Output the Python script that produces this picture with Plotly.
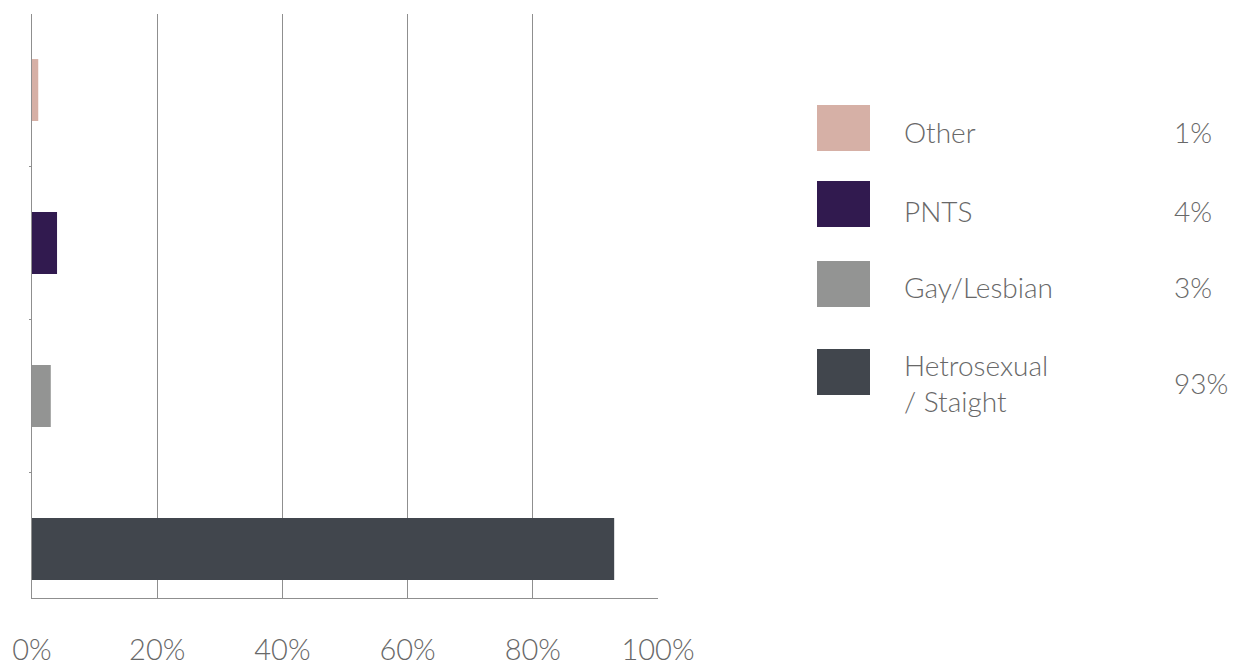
import plotly.graph_objects as go

categories = ["Other", "PNTS", "Gay/Lesbian", "Hetrosexual / Staight"]
legend_labels = ["Other", "PNTS", "Gay/Lesbian", "Hetrosexual<br>/ Staight"]
values = [1, 4, 3, 93]
colors = ["#d6b0a6", "#311a4f", "#939493", "#41464d"]
x_ticks = [0, 20, 40, 60, 80, 100]
x_ticktext = ["0%", "20%", "40%", "60%", "80%", "100%"]

FONT = "Lato"
TEXT_COLOR = "#686868"
GRID = "#8f8f8f"

# page body has an 8px default margin; work in figure pixel coordinates
OFF = 8
W, H = 1238 - OFF, 670 - OFF
L, R, T, B = 32 - OFF, 658 - OFF, 14 - OFF, 598 - OFF

def px_x(x):
    return (x - OFF - L) / (R - L)

def px_y(y):
    return (B - (y - OFF)) / (B - T)

fig = go.Figure()
for cat, val, col in zip(categories, values, colors):
    fig.add_trace(go.Bar(
        y=[cat], x=[val], orientation="h", marker=dict(color=col, line=dict(width=0)),
        width=0.405, showlegend=False, hoverinfo="x+y",
    ))

fig.update_layout(
    width=W, height=H,
    margin=dict(l=L, r=W - R, t=T, b=H - B, autoexpand=False),
    paper_bgcolor="white", plot_bgcolor="white",
    barmode="overlay",
    font=dict(family=FONT, color=TEXT_COLOR, weight=300),
)
fig.update_xaxes(
    range=[0, 100], tickvals=x_ticks, ticktext=x_ticktext,
    showgrid=True, gridcolor=GRID, gridwidth=1,
    showline=True, linecolor=GRID, linewidth=1,
    zeroline=False, ticks="", ticklabelstandoff=26, automargin=False,
    tickfont=dict(family=FONT, size=29, color=TEXT_COLOR, weight=300),
)
fig.update_yaxes(
    type="category", categoryorder="array", categoryarray=categories[::-1],
    range=[-0.32, 3.497], showgrid=False, showline=True, linecolor=GRID, linewidth=1,
    showticklabels=False, ticks="outside", ticklen=2, tickcolor=GRID,
    tickson="boundaries", zeroline=False, automargin=False,
)

# custom legend (reference page pixel positions)
sw_top = [105, 181, 261, 349]
label_mid = [132, 211, 287, 383]
for lab, val, col, top, mid in zip(legend_labels, values, colors, sw_top, label_mid):
    fig.add_shape(type="rect", xref="paper", yref="paper",
                  x0=px_x(817), x1=px_x(870), y0=px_y(top + 46), y1=px_y(top),
                  fillcolor=col, line=dict(width=0), layer="above")
    fig.add_annotation(xref="paper", yref="paper", x=px_x(902), y=px_y(mid),
                       xanchor="left", yanchor="middle", text=lab, showarrow=False,
                       align="left",
                       font=dict(family=FONT, size=28, color=TEXT_COLOR, weight=300))
    fig.add_annotation(xref="paper", yref="paper", x=px_x(1172), y=px_y(mid),
                       xanchor="left", yanchor="middle", text=f"{val}%", showarrow=False,
                       font=dict(family=FONT, size=28, color=TEXT_COLOR, weight=300))

fig.write_html("out.html")
